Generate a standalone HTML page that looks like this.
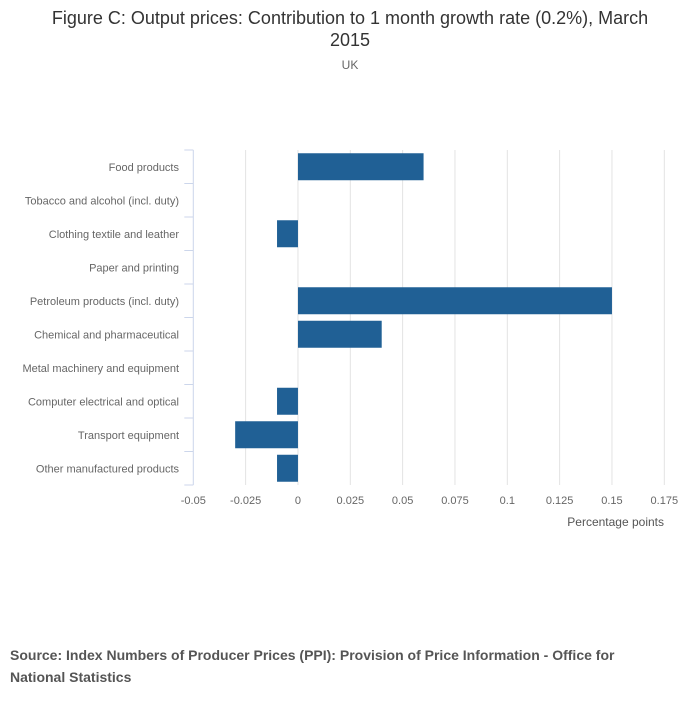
<!DOCTYPE html>
<html><head><meta charset="utf-8"><style>
body{margin:0;background:#fff;width:700px;height:707px;overflow:hidden;font-family:"Liberation Sans",sans-serif}
svg{display:block}
</style></head><body>
<svg width="700" height="707">
<text x="350" y="24" text-anchor="middle" font-size="18" fill="#333">Figure C: Output prices: Contribution to 1 month growth rate (0.2%), March</text>
<text x="350" y="46" text-anchor="middle" font-size="18" fill="#333">2015</text>
<text x="350" y="69" text-anchor="middle" font-size="12" fill="#666">UK</text>
<g id="grid"></g><g id="bars"></g><g id="axes"></g>
<text x="664" y="526" text-anchor="end" font-size="12" fill="#555">Percentage points</text>
<text x="10" y="660" font-size="14" font-weight="bold" fill="#555">Source: Index Numbers of Producer Prices (PPI): Provision of Price Information - Office for</text>
<text x="10" y="682" font-size="14" font-weight="bold" fill="#555">National Statistics</text>
</svg>
<script>
const categories=["Food products","Tobacco and alcohol (incl. duty)","Clothing textile and leather","Paper and printing","Petroleum products (incl. duty)","Chemical and pharmaceutical","Metal machinery and equipment","Computer electrical and optical","Transport equipment","Other manufactured products"];
const values=[0.06,0,-0.01,0,0.15,0.04,0,-0.01,-0.03,-0.01];
const ticks=[-0.05,-0.025,0,0.025,0.05,0.075,0.1,0.125,0.15,0.175];
const tickLabels=["-0.05","-0.025","0","0.025","0.05","0.075","0.1","0.125","0.15","0.175"];
const NS="http://www.w3.org/2000/svg";
const x0=193.3,x1=664.3,dmin=-0.05,dmax=0.175;
const X=v=>x0+(v-dmin)/(dmax-dmin)*(x1-x0);
const yTop=150,step=33.5;
const Y=i=>yTop+i*step;
function mk(p,t,a){const e=document.createElementNS(NS,t);for(const k in a)e.setAttribute(k,a[k]);p.appendChild(e);return e;}
const grid=document.getElementById('grid'),bars=document.getElementById('bars'),axes=document.getElementById('axes');
const bottom=Y(categories.length);
ticks.forEach((t,i)=>{
  if(i>0){const l=mk(grid,'line',{x1:X(t),x2:X(t),y1:yTop,y2:bottom,stroke:'#e3e3e3','stroke-width':1});
  
  }
  const tx=mk(axes,'text',{x:X(t),y:504,'text-anchor':'middle','font-size':11,fill:'#666'});
  tx.textContent=tickLabels[i];
  
  
});
const ax=mk(axes,'line',{x1:x0,x2:x0,y1:yTop,y2:bottom,stroke:'#ccd6eb','stroke-width':1});


for(let i=0;i<=categories.length;i++){
  const tk=mk(axes,'line',{x1:x0-9,x2:x0,y1:Y(i),y2:Y(i),stroke:'#ccd6eb','stroke-width':1});
  
  
}
categories.forEach((c,i)=>{
  const cy=Y(i)+step/2;
  const t=mk(axes,'text',{x:179,y:cy+4,'text-anchor':'end','font-size':11,fill:'#666'});
  t.textContent=c;
  
  
  const v=values[i];
  if(v!==0){
    const xa=Math.min(X(0),X(v)),w=Math.abs(X(v)-X(0));
    const r=mk(bars,'rect',{x:xa,y:cy-13.5,width:w,height:27,fill:'#206095'});
    
    
  }
});
</script>
</body></html>
